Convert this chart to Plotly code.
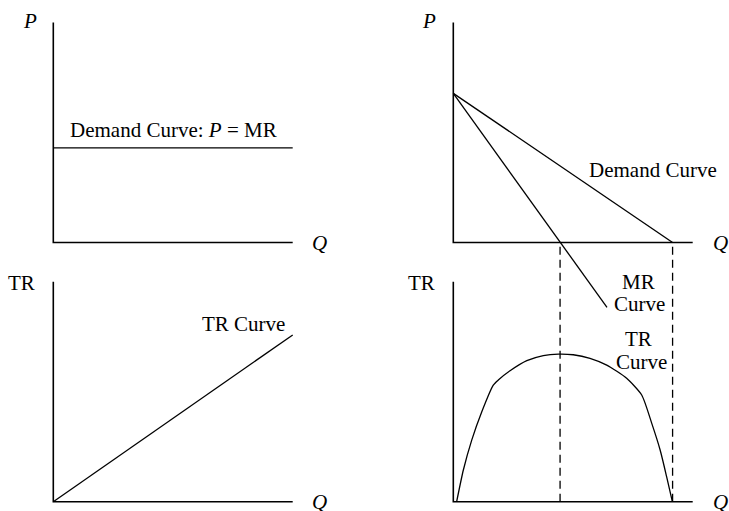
import plotly.graph_objects as go

# figure size in px
W, H = 729, 511

# ---- data (in axis units 0..10) ----
# top left: perfectly competitive demand, P = MR
flat_q = [0, 10]
flat_p = [4.3, 4.3]

# top right: downward sloping demand and MR
demand_q = [0, 9.16]
demand_p = [6.78, 0]
mr_q = [0, 4.46, 6.42]
mr_p = [6.78, 0, -2.95]

# bottom left: straight TR line
tr_line_q = [0, 10]
tr_line_tr = [0, 7.58]

# bottom right: hump shaped TR curve
tr_q = [0.14, 0.42, 0.77, 1.19, 1.67, 1.88, 2.37, 3.07, 3.76, 4.39,
        5.01, 5.71, 6.41, 7.24, 7.87, 8.29, 8.64, 8.91, 9.15]
tr_tr = [0, 1.44, 2.80, 4.09, 5.30, 5.53, 5.95, 6.41, 6.64, 6.71,
         6.68, 6.52, 6.21, 5.61, 4.85, 3.56, 2.35, 1.14, 0]

# dashed guides at MR = 0 and at the demand intercept
guide_q = [4.46, 9.16]
guide_top = 11.6

axis_len = 10

# ---- panel geometry in px: origin, scale, domain box ----
SX, SY = 23.94, 22.0
panels = {
    "1": dict(x0=53.3, y0=242.5, box=(0, 364, 0, 262)),
    "2": dict(x0=453.3, y0=242.5, box=(364, 729, 0, 318)),
    "3": dict(x0=53.3, y0=501.7, box=(0, 364, 262, 511)),
    "4": dict(x0=453.3, y0=501.7, box=(364, 729, 236, 511)),
}

FONT = dict(family="Liberation Serif, Times New Roman, serif", size=21, color="black")
LINE = dict(color="black", width=1.3)
AXLINE = dict(color="black", width=1.6)

fig = go.Figure()


def ax(n):
    return ("x" if n == "1" else "x" + n), ("y" if n == "1" else "y" + n)


def add_line(n, x, y, line=LINE):
    xa, ya = ax(n)
    fig.add_trace(go.Scatter(x=x, y=y, mode="lines", line=line,
                             xaxis=xa, yaxis=ya, hoverinfo="skip", showlegend=False))


def add_text(n, x, y, text, xanchor="center"):
    xa, ya = ax(n)
    fig.add_annotation(x=x, y=y, xref=xa, yref=ya, text=text, showarrow=False,
                       font=FONT, xanchor=xanchor, yanchor="middle")


# axes drawn as L shaped lines
for n in panels:
    add_line(n, [0, 0, axis_len], [axis_len, 0, 0], AXLINE)

add_line("1", flat_q, flat_p)
add_line("2", demand_q, demand_p)
add_line("2", mr_q, mr_p)
add_line("3", tr_line_q, tr_line_tr)
for q in guide_q:
    add_line("4", [q, q], [0, guide_top], dict(color="black", width=1.3, dash="8px,5px"))
xa, ya = ax("4")
fig.add_trace(go.Scatter(x=tr_q, y=tr_tr, mode="lines", line=dict(color="black", width=1.3, shape="spline", smoothing=0.6),
                         xaxis=xa, yaxis=ya, hoverinfo="skip", showlegend=False))

# labels
add_text("1", -0.97, 10.07, "<i>P</i>")
add_text("1", 11.1, 0, "<i>Q</i>")
add_text("1", 5.04, 5.11, "Demand Curve: <i>P</i> = MR")
add_text("2", -1.02, 10.07, "<i>P</i>")
add_text("2", 11.16, 0, "<i>Q</i>")
add_text("2", 8.35, 3.3, "Demand Curve")
add_text("3", -1.31, 9.94, "TR")
add_text("3", 7.94, 8.08, "TR Curve")
add_text("3", 11.1, 0, "<i>Q</i>")
add_text("4", -1.31, 9.94, "TR")
add_text("4", 11.16, 0, "<i>Q</i>")
add_text("4", 7.72, 9.99, "MR")
add_text("4", 7.76, 9.0, "Curve")
add_text("4", 7.72, 7.4, "TR")
add_text("4", 7.86, 6.37, "Curve")

layout = {}
for n, p in panels.items():
    L, R, T, B = p["box"]
    xkey = "xaxis" if n == "1" else "xaxis" + n
    ykey = "yaxis" if n == "1" else "yaxis" + n
    xa, ya = ax(n)
    layout[xkey] = dict(domain=[L / W, R / W],
                        range=[(L - p["x0"]) / SX, (R - p["x0"]) / SX],
                        visible=False, fixedrange=True, anchor=ya)
    layout[ykey] = dict(domain=[1 - B / H, 1 - T / H],
                        range=[(p["y0"] - B) / SY, (p["y0"] - T) / SY],
                        visible=False, fixedrange=True, anchor=xa)

fig.update_layout(**layout)
fig.update_layout(width=W, height=H, margin=dict(l=0, r=0, t=0, b=0),
                  paper_bgcolor="white", plot_bgcolor="rgba(0,0,0,0)",
                  showlegend=False)

# drop the default page margin so the chart sits at the window corner
fig.write_html("out.html", config={"displayModeBar": False},
               post_script="document.body.style.margin='0';document.body.style.overflow='hidden';")
